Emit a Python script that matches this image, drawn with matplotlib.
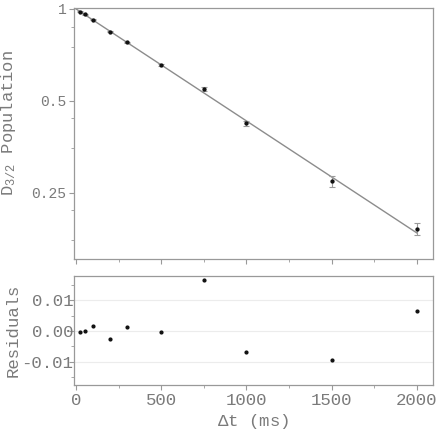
import matplotlib
matplotlib.use("Agg")
import matplotlib.pyplot as plt
from matplotlib.ticker import NullFormatter

plt.rcParams["font.family"] = ["Liberation Mono", "DejaVu Sans Mono"]
plt.rcParams["mathtext.default"] = "regular"

# delay times (ms) and measured D3/2 population
delay_ms = [25, 50, 100, 200, 300, 500, 750, 1000, 1500, 2000]
population = [0.979, 0.959, 0.921, 0.842, 0.778, 0.656, 0.547, 0.423, 0.273, 0.191]
pop_err = [0.002, 0.002, 0.003, 0.003, 0.003, 0.004, 0.007, 0.008, 0.012, 0.009]

# fitted exponential decay (straight line on log axis)
fit_t = [0, 2000]
fit_pop = [1.0, 0.185]

# residuals (data - fit)
residuals = [-0.0004, -0.0001, 0.0017, -0.0026, 0.0013, -0.0002, 0.0165, -0.0067, -0.0094, 0.0065]

gray = "#7a7a7a"
spine_gray = "#999999"
W, H = 437, 432

fig = plt.figure(figsize=(W / 100, H / 100), dpi=100)
ax1 = fig.add_axes([74 / W, 1 - 259 / H, (433 - 74) / W, (259 - 8) / H])
ax2 = fig.add_axes([74 / W, 1 - 385 / H, (433 - 74) / W, (385 - 276) / H])

# top panel
ax1.plot(fit_t, fit_pop, color="#8c8c8c", lw=1.0, zorder=1)
ax1.errorbar(delay_ms, population, yerr=pop_err, fmt="o", color="#111111", ms=2.1,
             ecolor="#9a9a9a", elinewidth=0.8, capsize=2, capthick=0.8, zorder=2)
ax1.set_yscale("log")
ax1.set_ylim(0.152, 1.007)
ax1.set_xlim(-12, 2095)
ax1.set_yticks([1, 0.5, 0.25], ["1", "0.5", "0.25"])
ax1.set_yticks([0.875, 0.75, 0.44, 0.35, 0.22, 0.175], minor=True)
ax1.yaxis.set_minor_formatter(NullFormatter())
ax1.set_xticks([0, 500, 1000, 1500, 2000], [])
ax1.set_xticks([250, 750, 1250, 1750], minor=True)
ax1.set_ylabel(r"$D_{3/2}$ Population", color=gray, fontsize=12.3)
ax1.yaxis.set_label_coords(-0.155, 0.54)

# residuals panel
ax2.scatter(delay_ms, residuals, s=4, color="#111111", zorder=2)
ax2.set_ylim(-0.0176, 0.0179)
ax2.set_xlim(-12, 2095)
ax2.set_yticks([0.01, 0.0, -0.01], ["0.01", "0.00", "-0.01"])
ax2.set_yticks([0.015, 0.005, -0.005, -0.015], minor=True)
ax2.set_xticks([0, 500, 1000, 1500, 2000], ["0", "500", "1000", "1500", "2000"])
ax2.set_xticks([250, 750, 1250, 1750], minor=True)
ax2.grid(axis="y", which="major", color="#ececec", lw=0.8, zorder=0)
ax2.set_ylabel("Residuals", color=gray, fontsize=12.5)
ax2.yaxis.set_label_coords(-0.150, 0.5)
ax2.set_xlabel(r"$\Delta$t (ms)", color=gray, fontsize=12.5, labelpad=3)

for ax in (ax1, ax2):
    for sp in ax.spines.values():
        sp.set_color(spine_gray)
        sp.set_linewidth(0.9)
    ax.tick_params(which="major", length=3.5, width=0.8, color=spine_gray,
                   labelcolor=gray)
    ax.tick_params(which="minor", length=2, width=0.6, color=spine_gray)
ax1.tick_params(axis="y", which="major", pad=2, labelsize=10.5)
ax2.tick_params(which="major", labelsize=12.5)
ax2.tick_params(axis="y", which="major", pad=-3)
ax2.tick_params(axis="x", which="major", pad=2)

fig.savefig("out.png", dpi=100)
